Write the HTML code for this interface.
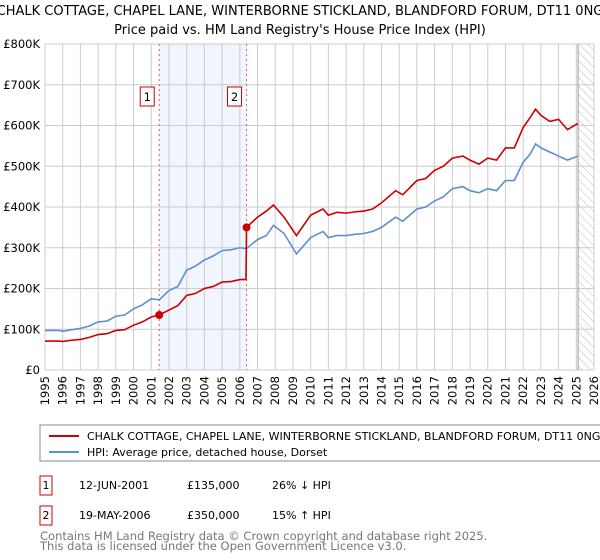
<!DOCTYPE html>
<html><head><meta charset="utf-8"><style>
body{margin:0;background:#fff}
svg{display:block;font-family:"DejaVu Sans","Liberation Sans",sans-serif}
</style></head><body>
<svg id="chart" width="600" height="560" viewBox="0 0 600 560">
<defs><pattern id="hatch" width="6" height="6" patternUnits="userSpaceOnUse" patternTransform="rotate(-45)"><line x1="0" y1="0" x2="0" y2="6" stroke="#bbb" stroke-width="1"/></pattern></defs>
<text x="300" y="15" text-anchor="middle" font-size="13">CHALK COTTAGE, CHAPEL LANE, WINTERBORNE STICKLAND, BLANDFORD FORUM, DT11 0NG</text>
<text x="300" y="34" text-anchor="middle" font-size="13">Price paid vs. HM Land Registry's House Price Index (HPI)</text>
<g id="plot"></g>
<g>
<rect x="40" y="425" width="570" height="36" fill="#fff" stroke="#888"/>
<line x1="49" y1="436" x2="79" y2="436" stroke="#cc0000" stroke-width="2"/>
<text x="87" y="440" font-size="11">CHALK COTTAGE, CHAPEL LANE, WINTERBORNE STICKLAND, BLANDFORD FORUM, DT11 0NG (</text>
<line x1="49" y1="452" x2="79" y2="452" stroke="#5b8fd0" stroke-width="2"/>
<text x="87" y="456" font-size="11">HPI: Average price, detached house, Dorset</text>
</g>
<g font-size="11">
<rect x="40" y="476" width="12" height="19" fill="#fff" stroke="#cc0000"/>
<text x="46" y="489" text-anchor="middle">1</text>
<text x="79" y="489">12-JUN-2001</text><text x="187" y="489">£135,000</text><text x="272" y="489">26% ↓ HPI</text>
<rect x="40" y="506" width="12" height="19" fill="#fff" stroke="#cc0000"/>
<text x="46" y="519" text-anchor="middle">2</text>
<text x="79" y="519">19-MAY-2006</text><text x="187" y="519">£350,000</text><text x="272" y="519">15% ↑ HPI</text>
</g>
<text x="40" y="540" font-size="11.5" fill="#777">Contains HM Land Registry data © Crown copyright and database right 2025.</text>
<text x="40" y="550" font-size="11.5" fill="#777">This data is licensed under the Open Government Licence v3.0.</text>
</svg>
<script>
const hpiYears=[1995,1995.8,1996,1996.5,1997,1997.5,1998,1998.5,1999,1999.5,2000,2000.5,2001,2001.45,2002,2002.5,2003,2003.5,2004,2004.5,2005,2005.5,2006,2006.38,2007,2007.5,2007.9,2008.5,2009.2,2010,2010.7,2011,2011.5,2012,2012.5,2013,2013.5,2014,2014.8,2015.2,2016,2016.5,2017,2017.5,2018,2018.6,2019,2019.5,2020,2020.5,2021,2021.5,2022,2022.4,2022.7,2023,2023.5,2024,2024.5,2025.1];
const hpiValues=[97,97,95,99,102,108,118,120,132,135,150,160,175,172,195,205,245,255,270,280,293,295,300,298,320,330,355,335,285,325,340,325,330,330,333,335,340,350,375,365,395,400,415,425,445,450,440,435,445,440,465,465,510,530,555,545,535,525,515,525];
const redYears=[1995,1995.8,1996,1996.5,1997,1997.5,1998,1998.5,1999,1999.5,2000,2000.5,2001,2001.45,2002,2002.5,2003,2003.5,2004,2004.5,2005,2005.5,2006,2006.35,2006.38,2007,2007.5,2007.9,2008.5,2009.2,2010,2010.7,2011,2011.5,2012,2012.5,2013,2013.5,2014,2014.8,2015.2,2016,2016.5,2017,2017.5,2018,2018.6,2019,2019.5,2020,2020.5,2021,2021.5,2022,2022.4,2022.7,2023,2023.5,2024,2024.5,2025.1];
const redValues=[71,71,70,73,75,80,87,89,97,99,110,118,130,135,147,158,183,188,200,205,216,217,222,222,350,375,390,405,375,330,380,395,380,387,385,388,390,395,410,440,430,465,470,490,500,520,525,515,505,520,515,545,545,595,620,640,625,610,615,590,605];
const saleYears=[2001.45,2006.38];
const saleValues=[135,350];
const saleLabels=["1","2"];
const yTicks=[0,100,200,300,400,500,600,700,800];
const yTickLabels=["£0","£100K","£200K","£300K","£400K","£500K","£600K","£700K","£800K"];
const xTicks=[];for(let y=1995;y<=2026;y++)xTicks.push(y);
const X0=45,X1=594,Y0=370,Y1=44;
const x=v=>X0+(v-1995)/(2026-1995)*(X1-X0);
const y=v=>Y0-v/800*(Y0-Y1);
const NS="http://www.w3.org/2000/svg";
const g=document.getElementById('plot');
function mk(t,a,p){const e=document.createElementNS(NS,t);for(const k in a)e.setAttribute(k,a[k]);(p||g).appendChild(e);return e;}
const sh=mk('rect',{x:x(saleYears[0]),y:Y1,width:x(saleYears[1])-x(saleYears[0]),height:Y0-Y1,fill:'#eef3fc',opacity:0.8});


const hz=mk('rect',{x:x(2025.1),y:Y1,width:X1-x(2025.1),height:Y0-Y1,fill:'url(#hatch)'});


xTicks.forEach(t=>{
 const l=mk('line',{x1:x(t),x2:x(t),y1:Y1,y2:Y0,stroke:'#cccccc'});
 
 
 const tx=mk('text',{x:0,y:0,transform:`translate(${x(t)+4},376) rotate(-90)`,'text-anchor':'end','font-size':'11.5'});
 tx.textContent=t;
 
 
});
yTicks.forEach((t,i)=>{
 const l=mk('line',{x1:X0,x2:X1,y1:y(t),y2:y(t),stroke:'#cccccc'});
 
 
 const tx=mk('text',{x:X0-5,y:y(t)+4,'text-anchor':'end','font-size':'11.5'});
 tx.textContent=yTickLabels[i];
 
 
});
const nl=mk('line',{x1:x(2025.1),x2:x(2025.1),y1:Y1,y2:Y0,stroke:'#999',"stroke-width":1});


saleYears.forEach((s,i)=>{
 const l=mk('line',{x1:x(s),x2:x(s),y1:Y1,y2:Y0,stroke:'#e06060','stroke-dasharray':'2,3'});
 
 
 const bx=mk('rect',{x:x(s)-19,y:87,width:14,height:19,fill:'#fff',stroke:'#cc0000'});
 
 
 const tx=mk('text',{x:x(s)-12,y:101,'text-anchor':'middle','font-size':'11.5'});
 tx.textContent=saleLabels[i];
 
 
});
const hp=mk('polyline',{points:hpiYears.map((v,i)=>x(v)+','+y(hpiValues[i])).join(' '),fill:'none',stroke:'#5b8fd0','stroke-width':1.6});


const rp=mk('polyline',{points:redYears.map((v,i)=>x(v)+','+y(redValues[i])).join(' '),fill:'none',stroke:'#cc0000','stroke-width':1.6});


saleYears.forEach((s,i)=>{
 const c=mk('circle',{cx:x(s),cy:y(saleValues[i]),r:4,fill:'#cc0000'});
 
 
});
</script>
</body></html>
